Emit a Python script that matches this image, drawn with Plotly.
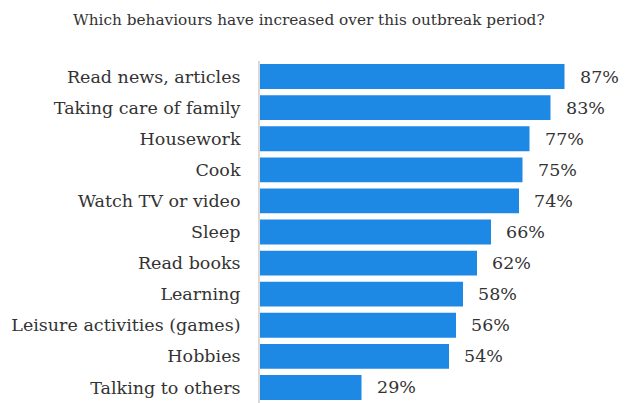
import plotly.graph_objects as go

# Survey results: share of respondents reporting an increase in each behaviour
categories = [
    "Read news, articles",
    "Taking care of family",
    "Housework",
    "Cook",
    "Watch TV or video",
    "Sleep",
    "Read books",
    "Learning",
    "Leisure activities (games)",
    "Hobbies",
    "Talking to others",
]
values = [87, 83, 77, 75, 74, 66, 62, 58, 56, 54, 29]
value_labels = [f"{v}%" for v in values]

title_text = "Which behaviours have increased over this outbreak period?"

FONT = "DejaVu Serif"
TEXT_COLOR = "#333333"
BAR_COLOR = "#1e88e5"

fig = go.Figure(
    go.Bar(
        x=values,
        y=categories,
        orientation="h",
        marker=dict(color=BAR_COLOR, line=dict(width=0)),
        hoverinfo="skip",
    )
)

# Value labels placed just past the end of each bar
for cat, val, lab in zip(categories, values, value_labels):
    fig.add_annotation(
        x=val, y=cat, xref="x", yref="y",
        text=lab, showarrow=False,
        xanchor="left", yanchor="middle", xshift=13,
        font=dict(family=FONT, size=17.5, color=TEXT_COLOR),
    )

fig.update_layout(
    width=638,
    height=403,
    margin=dict(l=260, r=28, t=61, b=0),
    paper_bgcolor="white",
    plot_bgcolor="white",
    bargap=0.2,
    showlegend=False,
    title=dict(
        text=title_text,
        x=0.484, xanchor="center", xref="container",
        y=0.952, yanchor="middle", yref="container",
        font=dict(family=FONT, size=15.3, color=TEXT_COLOR),
    ),
    xaxis=dict(
        range=[0, 100],
        visible=False,
        fixedrange=True,
    ),
    yaxis=dict(
        autorange="reversed",
        showgrid=False,
        showline=True,
        linecolor="#d9d9d9",
        linewidth=2,
        ticks="",
        ticklabelstandoff=14,
        tickfont=dict(family=FONT, size=17.5, color=TEXT_COLOR),
        fixedrange=True,
    ),
)

fig.write_html("out.html")
